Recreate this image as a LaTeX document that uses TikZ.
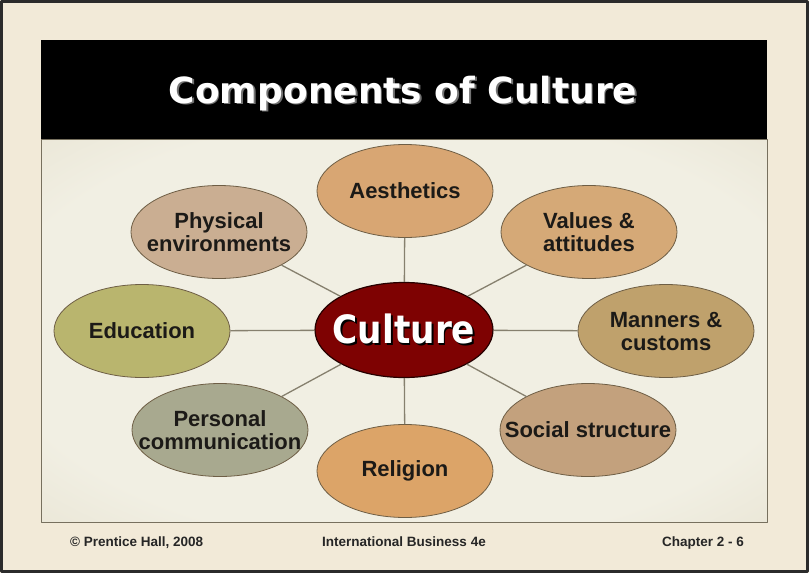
\documentclass[tikz,border=0pt]{standalone}
\usepackage{fontspec}
\setmainfont{Liberation Sans}
\newfontfamily\headfont{DejaVu Sans}
\newfontfamily\centrefont[FakeStretch=0.88]{DejaVu Sans}
\usetikzlibrary{shapes.geometric}

% colours
\definecolor{parchment}{HTML}{F2EAD8}
\definecolor{framegray}{HTML}{2B2B2B}
\definecolor{pnlcentre}{HTML}{F1EFE3}
\definecolor{pnlmid}{HTML}{E6E1CF}
\definecolor{pnledge}{HTML}{D2C9B1}
\definecolor{pnlline}{HTML}{77705E}
\definecolor{linkgray}{HTML}{86806E}
\definecolor{partline}{HTML}{6E5E45}
\definecolor{labeltext}{HTML}{1C1A17}
\definecolor{culturered}{HTML}{7E0202}
\definecolor{aescol}{HTML}{D8A673}
\definecolor{physcol}{HTML}{CAAE92}
\definecolor{valcol}{HTML}{D5A977}
\definecolor{educol}{HTML}{B9B56E}
\definecolor{mancol}{HTML}{BFA16C}
\definecolor{socol}{HTML}{C3A17D}
\definecolor{relcol}{HTML}{DCA468}
\definecolor{perscol}{HTML}{A8A98F}

\pgfdeclareradialshading{panelglow}{\pgfpoint{0bp}{0bp}}{%
  color(0bp)=(pnlcentre); color(28bp)=(pnlcentre);
  color(42bp)=(pnlmid); color(50bp)=(pnledge); color(75bp)=(pnledge)}

\newcommand{\withshade}[2]{\rlap{\kern1.6pt\raisebox{-1.6pt}{\textcolor{#2}{#1}}}#1}

\tikzset{
  part/.style={ellipse, draw=partline, line width=0.8pt,
    minimum width=176pt, minimum height=93pt, inner xsep=-45pt, inner ysep=-20pt,
    align=center, font=\fontsize{22}{23}\selectfont\bfseries, text=labeltext},
  link/.style={draw=linkgray, line width=1.3pt},
  foot/.style={inner sep=0pt, anchor=base, font=\fontsize{13.5}{15}\selectfont\bfseries, text=black!85},
}

\begin{document}
\begin{tikzpicture}[x=1pt,y=-1pt,line join=round]
  \useasboundingbox (0,0) rectangle (809,573);
  % page
  \fill[parchment] (0,0) rectangle (809,573);
  \draw[framegray, line width=3pt] (1.5,1.5) rectangle (807.5,571.5);
  % title bar and panel
  \fill[black] (41,40) rectangle (767,139);
  \shade[shading=panelglow] (41,139) rectangle (767,522);
  \draw[pnlline, line width=0.8pt] (41,139) rectangle (767,522);
  \node[text=white, inner sep=0pt, anchor=base, font=\headfont\bfseries\fontsize{36}{40}\selectfont]
    (title) at (403,103) {\withshade{Components of Culture}{black!55}};

  % centre
  \node[ellipse, draw=black!85!red, line width=1.2pt, fill=culturered,
    minimum width=178pt, minimum height=95pt, inner xsep=-40pt, inner ysep=-15pt,
    text=white, font=\centrefont\bfseries\fontsize{39}{42}\selectfont]
    (culture) at (404,330) {\withshade{Culture}{black}};

  % components
  \node[part, fill=aescol]  (aes)  at (405,191) {Aesthetics};
  \node[part, fill=valcol]  (val)  at (589,232) {Values \&\\attitudes};
  \node[part, fill=mancol]  (man)  at (666,331) {Manners \&\\customs};
  \node[part, fill=socol]   (soc)  at (588,430) {Social structure};
  \node[part, fill=relcol]  (rel)  at (405,471) {Religion};
  \node[part, fill=perscol] (pers) at (220,430) {Personal\\communication};
  \node[part, fill=educol]  (edu)  at (142,331) {Education};
  \node[part, fill=physcol] (phys) at (219,232) {Physical\\environments};

  % links
  \foreach \n in {aes,val,man,soc,rel,pers,edu,phys}
    \draw[link] (culture) -- (\n);

  % footer
  \node[foot, anchor=base west] (copy) at (70,546) {\textcopyright\ Prentice Hall, 2008};
  \node[foot] (book) at (404,546) {International Business 4e};
  \node[foot, anchor=base east] (chap) at (744,546) {Chapter 2 - 6};
\end{tikzpicture}
\end{document}
